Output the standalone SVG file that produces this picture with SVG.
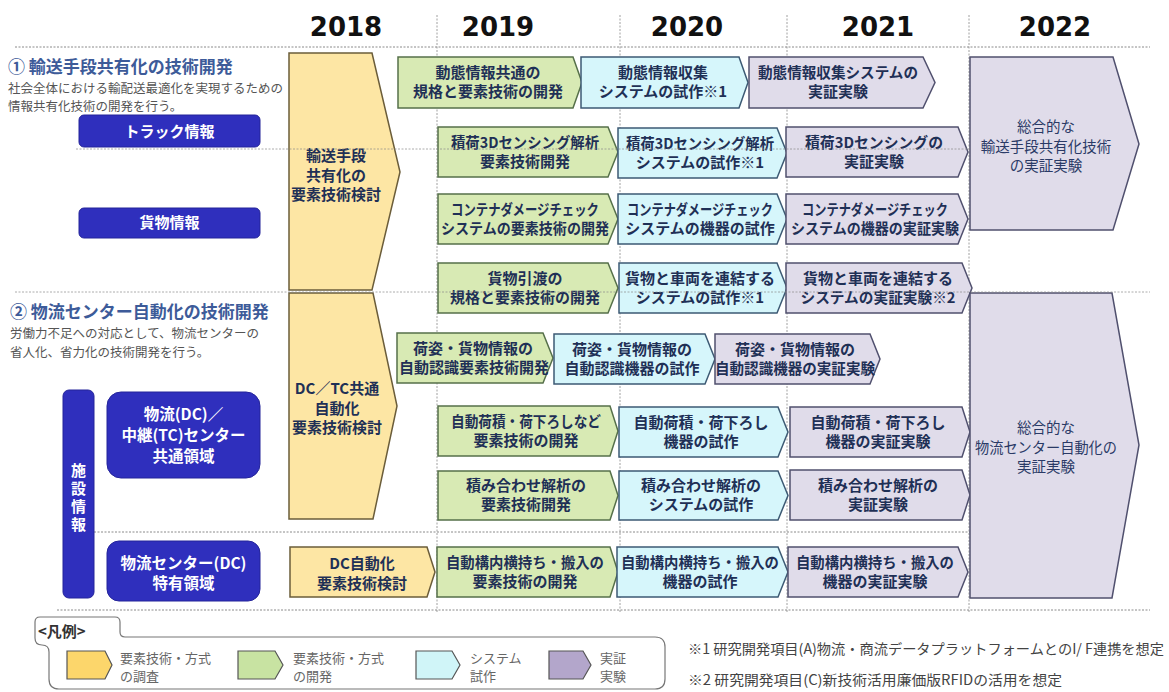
<svg xmlns="http://www.w3.org/2000/svg" width="1169" height="692" viewBox="0 0 1169 692">
<style>
.bg{fill:#ffffff}
.dot{stroke:#8a8a8a;stroke-width:1;stroke-dasharray:2 1.5;fill:none}
.vdot{stroke:#a0a0a0;stroke-width:1;stroke-dasharray:2 1.5;fill:none}
.yr{font-family:"DejaVu Sans",sans-serif;font-weight:bold;font-size:26px;fill:#111;text-anchor:middle}
.sec{font-family:"Noto Sans CJK JP",sans-serif;font-weight:bold;font-size:17px;fill:#3d5b99}
.sub{font-family:"Noto Sans CJK JP",sans-serif;font-size:12.5px;fill:#555}
.t{font-family:"Noto Sans CJK JP",sans-serif;font-weight:bold;font-size:15px;fill:#1f3056;text-anchor:middle}
.t22{font-family:"Noto Sans CJK JP",sans-serif;font-size:14.5px;fill:#2a3a66;text-anchor:middle}
.wt{font-family:"Noto Sans CJK JP",sans-serif;font-weight:bold;font-size:15px;fill:#ffffff;text-anchor:middle}
.wt16{font-family:"Noto Sans CJK JP",sans-serif;font-weight:bold;font-size:15.5px;fill:#ffffff;text-anchor:middle}
.lg{font-family:"Noto Sans CJK JP",sans-serif;font-size:13px;fill:#666}
.note{font-family:"Noto Sans CJK JP",sans-serif;font-size:14px;fill:#444}
.g{fill:#d8eab4;stroke:#56704a;stroke-width:1.5}
.c{fill:#d6f6fb;stroke:#3d5a74;stroke-width:1.5}
.p{fill:#e0dcea;stroke:#50506e;stroke-width:1.5}
.y{fill:#fde6a4;stroke:#6b5d3a;stroke-width:1.5}
.blue{fill:#2f2fbd;stroke:#24249a;stroke-width:1}
</style>
<rect class="bg" x="0" y="0" width="1169" height="692"/>

<g id="grid">
<line class="vdot" x1="437" y1="15" x2="437" y2="612"/>
<line class="vdot" x1="620" y1="15" x2="620" y2="612"/>
<line class="vdot" x1="787" y1="15" x2="787" y2="612"/>
<line class="vdot" x1="969" y1="15" x2="969" y2="612"/>
<line class="dot" x1="15" y1="47" x2="1150" y2="47"/>
<line class="dot" x1="94" y1="532" x2="970" y2="532"/>
<line class="dot" x1="57" y1="610" x2="1150" y2="610"/>
</g>

<g id="years">
<text class="yr" x="346" y="36">2018</text>
<text class="yr" x="498" y="36">2019</text>
<text class="yr" x="687" y="36">2020</text>
<text class="yr" x="878" y="36">2021</text>
<text class="yr" x="1055" y="36">2022</text>
</g>

<g id="section1">
<text class="sec" x="8" y="72.5">① 輸送手段共有化の技術開発</text>
<text class="sub" x="8" y="92.5">社会全体における輸配送最適化を実現するための</text>
<text class="sub" x="8" y="110.5">情報共有化技術の開発を行う。</text>
</g>
<g id="section2">
<text class="sec" x="10" y="318">② 物流センター自動化の技術開発</text>
<text class="sub" x="10" y="338">労働力不足への対応として、物流センターの</text>
<text class="sub" x="10" y="357">省人化、省力化の技術開発を行う。</text>
</g>

<g id="lbl-truck"><rect class="blue" x="79" y="115" width="181" height="32" rx="5"/><text class="wt" x="169.5" y="137">トラック情報</text></g>
<g id="lbl-cargo"><rect class="blue" x="79" y="208" width="181" height="30" rx="5"/><text class="wt" x="169.5" y="228">貨物情報</text></g>
<g id="lbl-facility"><rect class="blue" x="63" y="390" width="31" height="208" rx="6"/>
<text x="78.5" y="499" font-family="Noto Sans CJK JP, sans-serif" font-weight="bold" font-size="15" fill="#ffffff" text-anchor="middle" letter-spacing="3" style="writing-mode:vertical-rl">施設情報</text></g>
<g id="lbl-common"><rect class="blue" x="107" y="392" width="153" height="86" rx="14"/>
<text class="wt16" x="183.5" y="420">物流(DC)／</text><text class="wt16" x="183.5" y="441">中継(TC)センター</text><text class="wt16" x="183.5" y="462">共通領域</text></g>
<g id="lbl-dc"><rect class="blue" x="107" y="541" width="153" height="60" rx="12"/>
<text class="wt16" x="183.5" y="569">物流センター(DC)</text><text class="wt16" x="183.5" y="589">特有領域</text></g>

<g id="y1"><polygon class="y" points="289,53 372,53 400,172 372,290 289,290"/>
<text class="t" x="336" y="161">輸送手段</text><text class="t" x="336" y="180.5">共有化の</text><text class="t" x="336" y="200">要素技術検討</text></g>
<g id="y2"><polygon class="y" points="289,293 373,293 397,406 373,519 289,519"/>
<text class="t" x="337" y="393.5">DC／TC共通</text><text class="t" x="337" y="413.5">自動化</text><text class="t" x="337" y="433">要素技術検討</text></g>

<g id="r1g"><polygon class="g" points="398,57 573,57 582,82.5 573,108 398,108"/><text class="t" x="488" y="78.3">動態情報共通の</text><text class="t" x="488" y="97.3">規格と要素技術の開発</text></g>
<g id="r1c"><polygon class="c" points="581,57 739,57 748,82.5 739,108 581,108"/><text class="t" x="663" y="78.3">動態情報収集</text><text class="t" x="663" y="97.3">システムの試作※1</text></g>
<g id="r1p"><polygon class="p" points="749,57 923,57 935,82.5 923,108 749,108"/><text class="t" x="838" y="78.3" textLength="160" lengthAdjust="spacingAndGlyphs">動態情報収集システムの</text><text class="t" x="838" y="97.3">実証実験</text></g>

<g id="r2g"><polygon class="g" points="438,127 608,127 618,152 608,177 438,177"/><text class="t" x="525" y="147.8" textLength="148" lengthAdjust="spacingAndGlyphs">積荷3Dセンシング解析</text><text class="t" x="525" y="166.8">要素技術開発</text></g>
<g id="r2c"><polygon class="c" points="618,128 777,128 787,153 777,178 618,178"/><text class="t" x="700" y="148.8" textLength="148" lengthAdjust="spacingAndGlyphs">積荷3Dセンシング解析</text><text class="t" x="700" y="167.8">システムの試作※1</text></g>
<g id="r2p"><polygon class="p" points="786,127 958,127 968,152 958,177 786,177"/><text class="t" x="874" y="147.8" textLength="138" lengthAdjust="spacingAndGlyphs">積荷3Dセンシングの</text><text class="t" x="874" y="166.8">実証実験</text></g>

<g id="r3g"><polygon class="g" points="438,194 608,194 618,219 608,244 438,244"/><text class="t" x="525" y="214.8" textLength="148" lengthAdjust="spacingAndGlyphs">コンテナダメージチェック</text><text class="t" x="525" y="233.8" textLength="168" lengthAdjust="spacingAndGlyphs">システムの要素技術の開発</text></g>
<g id="r3c"><polygon class="c" points="618,194 777,194 787,219 777,244 618,244"/><text class="t" x="700" y="214.8" textLength="146" lengthAdjust="spacingAndGlyphs">コンテナダメージチェック</text><text class="t" x="700" y="233.8">システムの機器の試作</text></g>
<g id="r3p"><polygon class="p" points="786,194 958,194 968,219 958,244 786,244"/><text class="t" x="875" y="214.8" textLength="146" lengthAdjust="spacingAndGlyphs">コンテナダメージチェック</text><text class="t" x="875" y="233.8" textLength="168" lengthAdjust="spacingAndGlyphs">システムの機器の実証実験</text></g>

<g id="r4g"><polygon class="g" points="438,263 608,263 618,288 608,313 438,313"/><text class="t" x="525" y="283.8">貨物引渡の</text><text class="t" x="525" y="302.8">規格と要素技術の開発</text></g>
<g id="r4c"><polygon class="c" points="619,263 777,263 787,288 777,313 619,313"/><text class="t" x="700" y="283.8">貨物と車両を連結する</text><text class="t" x="700" y="302.8">システムの試作※1</text></g>
<g id="r4p"><polygon class="p" points="786,263 962,263 972,288 962,313 786,313"/><text class="t" x="878" y="283.8">貨物と車両を連結する</text><text class="t" x="878" y="302.8" textLength="155" lengthAdjust="spacingAndGlyphs">システムの実証実験※2</text></g>

<g id="r5g"><polygon class="g" points="397,333 543,333 553,358 543,383 397,383"/><text class="t" x="473" y="353.8">荷姿・貨物情報の</text><text class="t" x="474" y="372.8" textLength="150" lengthAdjust="spacingAndGlyphs">自動認識要素技術開発</text></g>
<g id="r5c"><polygon class="c" points="554,334 705,334 715,359 705,384 554,384"/><text class="t" x="632" y="354.8">荷姿・貨物情報の</text><text class="t" x="632" y="373.8">自動認識機器の試作</text></g>
<g id="r5p"><polygon class="p" points="715,334 870,334 880,359 870,384 715,384"/><text class="t" x="795" y="354.8">荷姿・貨物情報の</text><text class="t" x="795" y="373.8" textLength="160" lengthAdjust="spacingAndGlyphs">自動認識機器の実証実験</text></g>

<g id="r6g"><polygon class="g" points="438,406 610,406 618,431 610,456 438,456"/><text class="t" x="526" y="426.8" textLength="150" lengthAdjust="spacingAndGlyphs">自動荷積・荷下ろしなど</text><text class="t" x="526" y="445.8">要素技術の開発</text></g>
<g id="r6c"><polygon class="c" points="619,407 778,407 788,432 778,457 619,457"/><text class="t" x="701" y="427.8">自動荷積・荷下ろし</text><text class="t" x="701" y="446.8">機器の試作</text></g>
<g id="r6p"><polygon class="p" points="790,407 962,407 970,432 962,457 790,457"/><text class="t" x="878" y="427.8">自動荷積・荷下ろし</text><text class="t" x="878" y="446.8">機器の実証実験</text></g>

<g id="r7g"><polygon class="g" points="438,471 610,471 618,495.5 610,520 438,520"/><text class="t" x="526" y="491.3">積み合わせ解析の</text><text class="t" x="526" y="510.3">要素技術開発</text></g>
<g id="r7c"><polygon class="c" points="619,471 778,471 788,495.5 778,520 619,520"/><text class="t" x="701" y="491.3">積み合わせ解析の</text><text class="t" x="701" y="510.3">システムの試作</text></g>
<g id="r7p"><polygon class="p" points="790,470 962,470 970,495 962,520 790,520"/><text class="t" x="878" y="490.8">積み合わせ解析の</text><text class="t" x="878" y="509.8">実証実験</text></g>

<g id="r8y"><polygon class="y" points="290,547 427,547 435,572 427,597 290,597"/><text class="t" x="362" y="568.5">DC自動化</text><text class="t" x="362" y="588.5">要素技術検討</text></g>
<g id="r8g"><polygon class="g" points="437,547 610,547 618,572 610,597 437,597"/><text class="t" x="525" y="567.8" textLength="158" lengthAdjust="spacingAndGlyphs">自動構内横持ち・搬入の</text><text class="t" x="525" y="586.8">要素技術の開発</text></g>
<g id="r8c"><polygon class="c" points="617,547 778,547 788,572 778,597 617,597"/><text class="t" x="700" y="567.8" textLength="158" lengthAdjust="spacingAndGlyphs">自動構内横持ち・搬入の</text><text class="t" x="700" y="586.8">機器の試作</text></g>
<g id="r8p"><polygon class="p" points="788,547 958,547 968,572 958,597 788,597"/><text class="t" x="875" y="567.8" textLength="158" lengthAdjust="spacingAndGlyphs">自動構内横持ち・搬入の</text><text class="t" x="875" y="586.8">機器の実証実験</text></g>

<g id="p2022a"><polygon class="p" points="970,57 1113,57 1139,144 1113,230 970,230"/>
<text class="t22" x="1046" y="132">総合的な</text><text class="t22" x="1046" y="152">輸送手段共有化技術</text><text class="t22" x="1046" y="171">の実証実験</text></g>
<g id="p2022b"><polygon class="p" points="970,293 1112,293 1139,445 1112,598 970,598"/>
<text class="t22" x="1046" y="433">総合的な</text><text class="t22" x="1046" y="453" textLength="142" lengthAdjust="spacingAndGlyphs">物流センター自動化の</text><text class="t22" x="1046" y="472">実証実験</text></g>

<g id="overlines" opacity="0.7">
<line class="dot" x1="76" y1="149" x2="970" y2="149"/>
<line class="dot" x1="15" y1="292" x2="1150" y2="292"/>
</g>

<g id="legend">
<path d="M49,679 V652 Q49,645 42,645 Q35,645 35,638 V622 Q35,617 40,617 H115 Q120,617 120,622 V632 Q120,637 125,637 H655 Q665,637 665,647 V679 Q665,689 655,689 H59 Q49,689 49,679 Z" fill="#ffffff" stroke="#777" stroke-width="1.2"/>
<text x="38" y="637" font-family="Noto Sans CJK JP, sans-serif" font-weight="bold" font-size="15" fill="#333">&lt;凡例&gt;</text>
<polygon points="67,651 105,651 112,665 105,679 67,679" fill="#fcd66b" stroke="#555" stroke-width="1.2"/>
<text class="lg" x="120" y="663">要素技術・方式</text><text class="lg" x="120" y="681">の調査</text>
<polygon points="238,651 275,651 283,665 275,679 238,679" fill="#c8e3a2" stroke="#555" stroke-width="1.2"/>
<text class="lg" x="293" y="663">要素技術・方式</text><text class="lg" x="293" y="681">の開発</text>
<polygon points="416,651 452,651 460,665 452,679 416,679" fill="#d0f5f8" stroke="#555" stroke-width="1.2"/>
<text class="lg" x="470" y="663">システム</text><text class="lg" x="470" y="681">試作</text>
<polygon points="549,651 583,651 591,665 583,679 549,679" fill="#b3a6cb" stroke="#555" stroke-width="1.2"/>
<text class="lg" x="600" y="663">実証</text><text class="lg" x="600" y="681">実験</text>
</g>

<g id="notes">
<text class="note" x="688" y="654" textLength="476" lengthAdjust="spacingAndGlyphs">※1 研究開発項目(A)物流・商流データプラットフォームとのI/ F連携を想定</text>
<text class="note" x="688" y="685" textLength="374" lengthAdjust="spacingAndGlyphs">※2 研究開発項目(C)新技術活用廉価版RFIDの活用を想定</text>
</g>
</svg>
